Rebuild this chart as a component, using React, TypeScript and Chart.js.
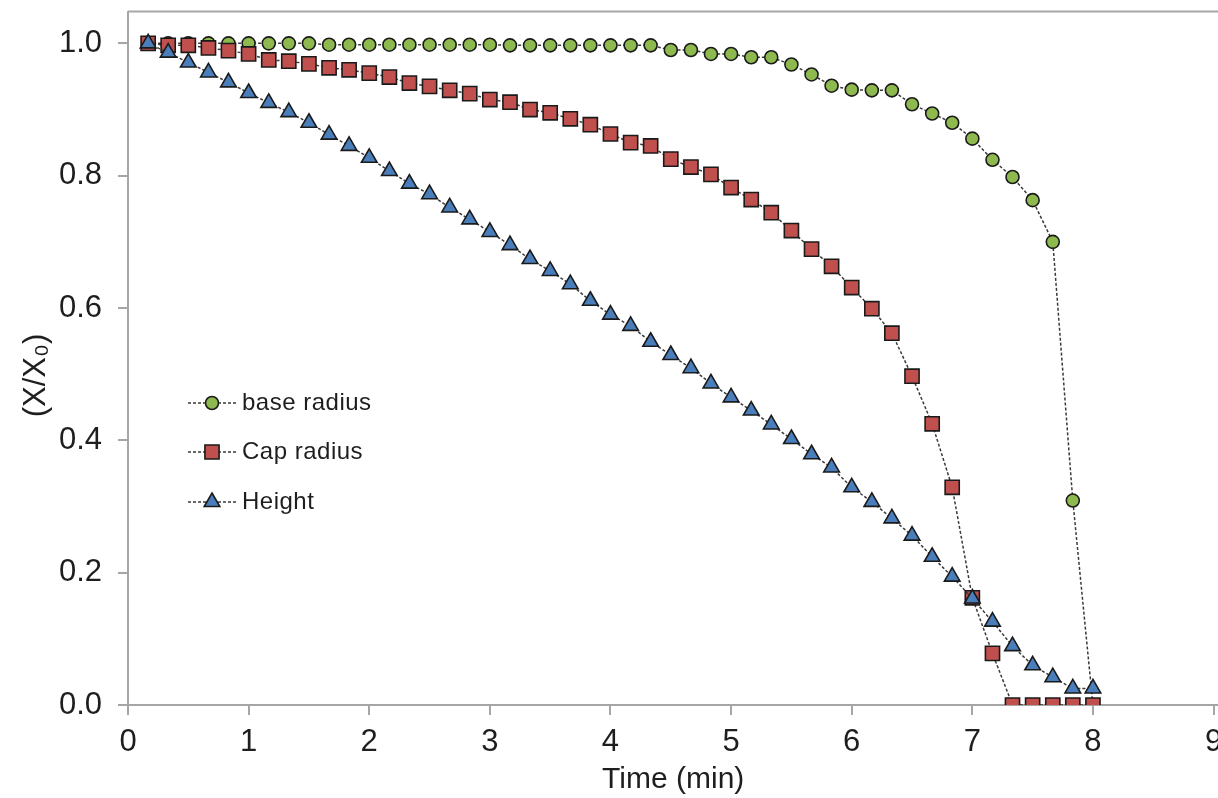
import React, { useEffect, useRef } from 'react';
import { Chart, registerables } from 'chart.js';

Chart.register(...registerables);

// Time (min)
const timeMin = [
  0.167, 0.333, 0.5, 0.667, 0.833, 1.0, 1.167, 1.333, 1.5, 1.667, 1.833, 2.0,
  2.167, 2.333, 2.5, 2.667, 2.833, 3.0, 3.167, 3.333, 3.5, 3.667, 3.833, 4.0,
  4.167, 4.333, 4.5, 4.667, 4.833, 5.0, 5.167, 5.333, 5.5, 5.667, 5.833, 6.0,
  6.167, 6.333, 6.5, 6.667, 6.833, 7.0, 7.167, 7.333, 7.5, 7.667, 7.833, 8.0,
];

const baseRadius = [
  1.0, 1.0, 1.0, 1.0, 1.0, 1.0, 1.0, 1.0, 1.0, 0.998, 0.998, 0.998,
  0.998, 0.998, 0.998, 0.998, 0.998, 0.998, 0.997, 0.997, 0.997, 0.997, 0.997, 0.997,
  0.997, 0.997, 0.99, 0.99, 0.984, 0.984, 0.979, 0.979, 0.968, 0.953, 0.936, 0.93,
  0.929, 0.929, 0.908, 0.894, 0.88, 0.856, 0.824, 0.798, 0.763, 0.7, 0.309, 0.0,
];

const capRadius = [
  1.0, 0.997, 0.997, 0.993, 0.989, 0.984, 0.975, 0.973, 0.969, 0.963, 0.96, 0.955,
  0.949, 0.94, 0.935, 0.929, 0.924, 0.915, 0.911, 0.9, 0.895, 0.886, 0.877, 0.863,
  0.85, 0.845, 0.825, 0.813, 0.802, 0.782, 0.764, 0.744, 0.717, 0.689, 0.663, 0.631,
  0.599, 0.562, 0.497, 0.425, 0.329, 0.162, 0.078, 0.0, 0.0, 0.0, 0.0, 0.0,
];

const heightRatio = [
  1.0, 0.986, 0.971, 0.956, 0.941, 0.925, 0.91, 0.896, 0.88, 0.862, 0.845, 0.827,
  0.807, 0.788, 0.772, 0.752, 0.734, 0.715, 0.695, 0.674, 0.656, 0.636, 0.611, 0.59,
  0.573, 0.549, 0.529, 0.509, 0.486, 0.465, 0.445, 0.424, 0.402, 0.379, 0.359, 0.329,
  0.307, 0.282, 0.256, 0.224, 0.194, 0.161, 0.126, 0.089, 0.06, 0.042, 0.025, 0.025,
];

const seriesNames = ['base radius', 'Cap radius', 'Height'];
const xTickValues = [0, 1, 2, 3, 4, 5, 6, 7, 8, 9];
const yTickValues = [0, 0.2, 0.4, 0.6, 0.8, 1.0];

const FONT = "'Liberation Sans', Arial, sans-serif";
const AXIS_COLOR = '#a6a6a6';
const TEXT_COLOR = '#1e1e1e';
const LINE_COLOR = '#3a3a3a';
const MARKER_BORDER = '#1a1a1a';

const markers = [
  { style: 'circle', radius: 6.5, fill: '#8DB94E' },
  { style: 'rect', radius: 10, fill: '#C0504D' },
  { style: 'triangle', radius: 9, fill: '#4A7EBB' },
];

function drawMarker(ctx: CanvasRenderingContext2D, style: string, x: number, y: number, r: number) {
  ctx.beginPath();
  if (style === 'circle') {
    ctx.arc(x, y, r, 0, Math.PI * 2);
  } else if (style === 'rect') {
    const s = r * Math.SQRT1_2;
    ctx.rect(x - s, y - s, 2 * s, 2 * s);
  } else {
    ctx.moveTo(x, y - r);
    ctx.lineTo(x + r * Math.sin((2 * Math.PI) / 3), y - r * Math.cos((2 * Math.PI) / 3));
    ctx.lineTo(x + r * Math.sin((4 * Math.PI) / 3), y - r * Math.cos((4 * Math.PI) / 3));
    ctx.closePath();
  }
  ctx.fill();
  ctx.stroke();
}

export default function App() {
  const ref = useRef<HTMLCanvasElement>(null);

  useEffect(() => {
    document.body.style.margin = '0';
    const canvas = ref.current;
    if (!canvas) return;

    const toPts = (arr: number[]) => arr.map((y, i) => ({ x: timeMin[i], y }));
    const seriesData = [baseRadius, capRadius, heightRatio];

    const datasets = seriesData.map((arr, i) => ({
      label: seriesNames[i],
      data: toPts(arr),
      order: 3 - i,
      borderColor: LINE_COLOR,
      borderWidth: 1.5,
      borderDash: [3, 2],
      fill: false,
      tension: 0,
      pointStyle: markers[i].style,
      pointRadius: markers[i].radius,
      pointBackgroundColor: markers[i].fill,
      pointBorderColor: MARKER_BORDER,
      pointBorderWidth: 1.6,
    }));

    const frameAndLegend = {
      id: 'frameAndLegend',
      beforeDatasetsDraw(chart: any) {
        const { ctx, chartArea } = chart;
        ctx.save();
        ctx.strokeStyle = AXIS_COLOR;
        ctx.lineWidth = 2;
        ctx.beginPath();
        ctx.moveTo(chartArea.left, chartArea.top);
        ctx.lineTo(chartArea.right, chartArea.top);
        ctx.stroke();
        ctx.restore();
      },
      afterDatasetsDraw(chart: any) {
        const { ctx } = chart;
        const rowsY = [403, 452, 502];
        ctx.save();
        seriesNames.forEach((name, i) => {
          const y = rowsY[i];
          ctx.strokeStyle = LINE_COLOR;
          ctx.lineWidth = 1.5;
          ctx.setLineDash([3, 2]);
          ctx.beginPath();
          ctx.moveTo(188, y);
          ctx.lineTo(238, y);
          ctx.stroke();
          ctx.setLineDash([]);
          ctx.fillStyle = markers[i].fill;
          ctx.strokeStyle = MARKER_BORDER;
          ctx.lineWidth = 1.6;
          drawMarker(ctx, markers[i].style, 212, y, markers[i].radius);
          ctx.fillStyle = TEXT_COLOR;
          ctx.font = `24px ${FONT}`;
          (ctx as any).letterSpacing = '0.5px';
          ctx.textAlign = 'left';
          ctx.textBaseline = 'middle';
          ctx.fillText(name, 242, y);
          (ctx as any).letterSpacing = '0px';
        });
        ctx.restore();
      },
    };

    const chart = new Chart(canvas, {
      type: 'line',
      data: { datasets: datasets as any },
      options: {
        animation: false,
        responsive: false,
        devicePixelRatio: 1,
        layout: { padding: { top: 10, right: 0, left: 0, bottom: 0 } },
        plugins: { legend: { display: false }, tooltip: { enabled: false } },
        scales: {
          x: {
            type: 'linear',
            min: 0,
            max: 9.04,
            afterBuildTicks: (s: any) => {
              s.ticks = xTickValues.map((v) => ({ value: v }));
            },
            afterFit: (s: any) => {
              s.height = 93;
              s.paddingLeft = 0;
              s.paddingRight = 0;
            },
            grid: {
              display: true,
              drawOnChartArea: false,
              drawTicks: true,
              tickLength: 10,
              color: AXIS_COLOR,
              lineWidth: 2,
            },
            border: { display: true, color: AXIS_COLOR, width: 2 },
            ticks: {
              font: { family: FONT, size: 31 },
              color: TEXT_COLOR,
              padding: 9,
              maxRotation: 0,
              autoSkip: false,
              callback: (v: any) => String(v),
            },
            title: {
              display: true,
              text: 'Time (min)',
              font: { family: FONT, size: 30 },
              color: TEXT_COLOR,
              padding: { top: 0, bottom: 0 },
            },
          },
          y: {
            type: 'linear',
            min: 0,
            max: 1.048,
            afterBuildTicks: (s: any) => {
              s.ticks = yTickValues.map((v) => ({ value: v }));
            },
            afterFit: (s: any) => {
              s.width = 128;
              s.paddingTop = 0;
              s.paddingBottom = 0;
            },
            grid: {
              display: true,
              drawOnChartArea: false,
              drawTicks: true,
              tickLength: 10,
              color: AXIS_COLOR,
              lineWidth: 2,
            },
            border: { display: true, color: AXIS_COLOR, width: 2 },
            ticks: {
              font: { family: FONT, size: 31 },
              color: TEXT_COLOR,
              padding: 16,
              autoSkip: false,
              callback: (v: any) => Number(v).toFixed(1),
            },
            title: {
              display: true,
              text: '(X/X₀)\u00A0\u00A0\u00A0\u00A0',
              font: { family: FONT, size: 31 },
              color: TEXT_COLOR,
              padding: { top: 18, bottom: 0 },
            },
          },
        },
      } as any,
      plugins: [frameAndLegend],
    });

    return () => chart.destroy();
  }, []);

  return (
    <div style={{ width: 1218, height: 798, position: 'relative', overflow: 'hidden', background: '#fff' }}>
      <canvas ref={ref} width={1230} height={798} style={{ display: 'block' }} />
    </div>
  );
}
